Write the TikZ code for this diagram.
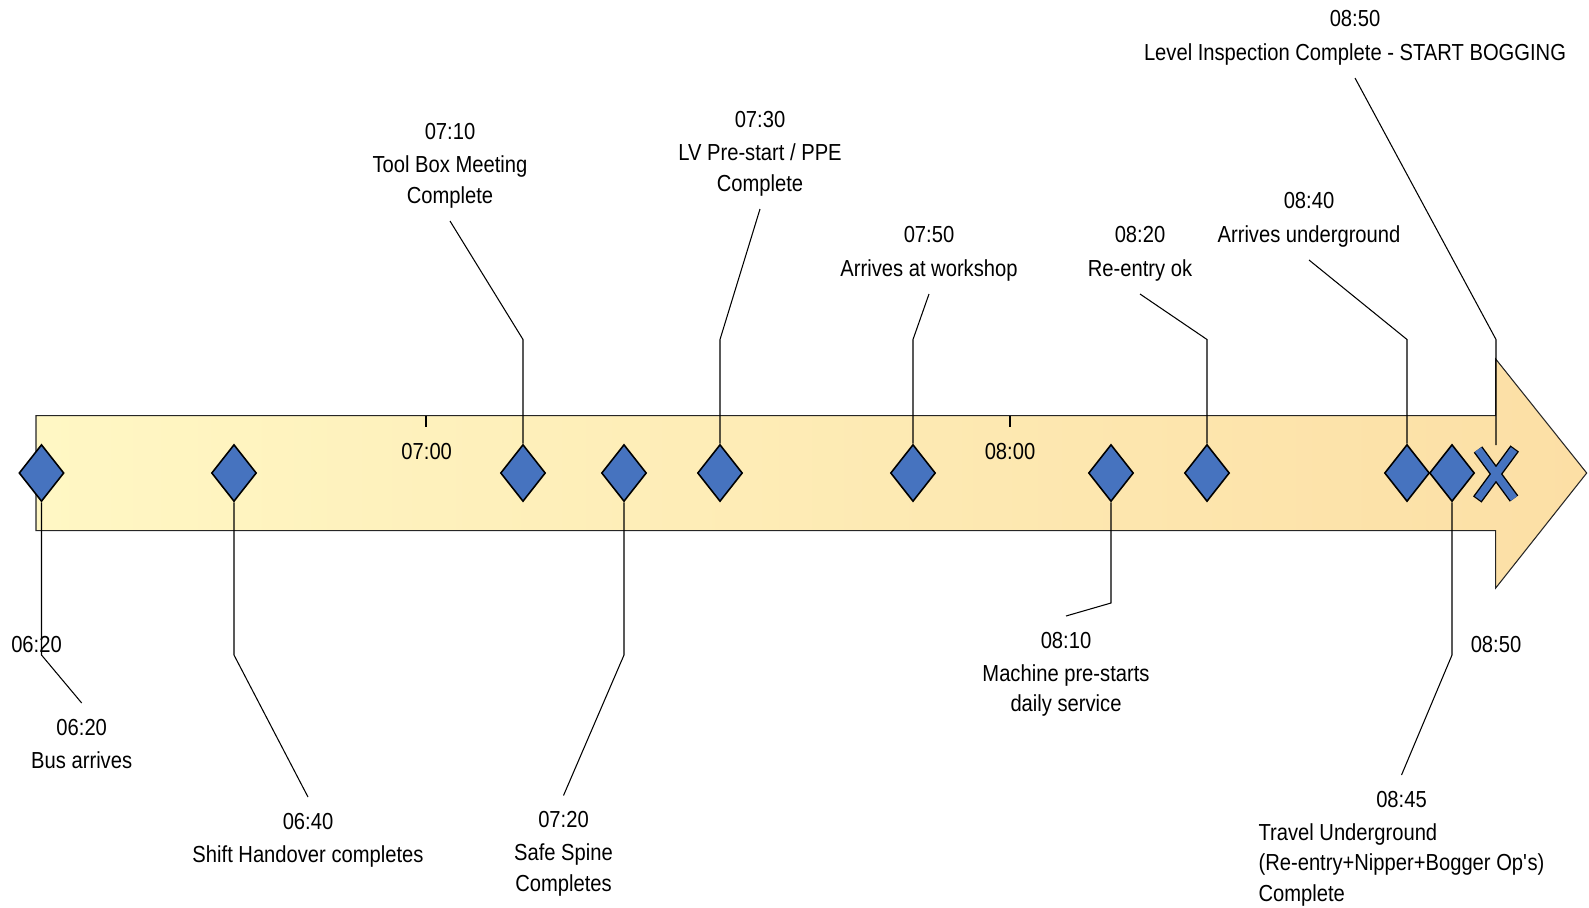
\documentclass[tikz,border=0pt]{standalone}
\usepackage{fontspec}
\setmainfont{Liberation Sans}[FakeStretch=0.87]
\usetikzlibrary{shapes.geometric}
\definecolor{Marker}{HTML}{4673BF}
\definecolor{BandLeft}{HTML}{FFF7C4}
\definecolor{BandRight}{HTML}{FCDFA5}

\begin{document}
\begin{tikzpicture}[x=0.02cm,y=-0.02cm,
    every node/.style={font=\fontsize{13.2}{17.3}\selectfont},
    band/.style={draw=black!85,line width=0.6pt,left color=BandLeft,right color=BandRight},
    milestone/.style={diamond,draw=black,line width=0.9pt,fill=Marker,inner sep=0pt,
      minimum width=0.9cm,minimum height=1.14cm},
    lead/.style={draw=black,line width=0.6pt},
    toplbl/.style={align=center,anchor=south,inner sep=7.1pt},
    lowlbl/.style={align=center,anchor=north,inner sep=8.8pt},
    xedge/.style={draw=black,line width=6pt,shorten <=-0.7pt,shorten >=-0.7pt},
    xfill/.style={draw=Marker,line width=4.4pt}]
  \useasboundingbox (0,0) rectangle (1589,907);

  % time band
  \shade[band] (36,415.7) -- (1495.7,415.7) -- (1495.7,359) -- (1586.7,473)
    -- (1495.7,588) -- (1495.7,530.7) -- (36,530.7) -- cycle;
  \draw[lead] (426,415.7) -- (426,427);
  \draw[lead] (1010,415.7) -- (1010,427);
  \node (t700) at (426.7,451.7) {07:00};
  \node (t800) at (1010,451.7) {08:00};
  \node (start) at (36.5,645) {06:20};
  \node (finish) at (1496,644.5) {08:50};

  % milestones
  \node[milestone] (d620) at (41.5,473) {};
  \node[milestone] (d640) at (234,473) {};
  \node[milestone] (d710) at (523,473) {};
  \node[milestone] (d720) at (624,473) {};
  \node[milestone] (d730) at (720,473) {};
  \node[milestone] (d750) at (913,473) {};
  \node[milestone] (d810) at (1111,473) {};
  \node[milestone] (d820) at (1207,473) {};
  \node[milestone] (d840) at (1407,473) {};
  \node[milestone] (d845) at (1452,473) {};
  \coordinate (x850) at (1496,474);

  % labels
  \node[lowlbl] (lbl620) at (81.7,703) {06:20\\[1.7pt]Bus arrives};
  \node[lowlbl] (lbl640) at (308,797) {06:40\\[1.7pt]Shift Handover completes};
  \node[toplbl] (lbl710) at (450,221) {07:10\\[1.7pt]Tool Box Meeting\\Complete};
  \node[lowlbl] (lbl720) at (563.5,795.5) {07:20\\[1.7pt]Safe Spine\\Completes};
  \node[toplbl] (lbl730) at (760,209) {07:30\\[1.7pt]LV Pre-start / PPE\\Complete};
  \node[toplbl] (lbl750) at (929,294) {07:50\\[1.7pt]Arrives at workshop};
  \node[lowlbl] (lbl810) at (1066,616) {08:10\\[1.7pt]Machine pre-starts\\daily service};
  \node[toplbl] (lbl820) at (1140,294) {08:20\\[1.7pt]Re-entry ok};
  \node[toplbl] (lbl840) at (1309,260) {08:40\\[1.7pt]Arrives underground};
  \node[lowlbl] (lbl845) at (1401.5,775) {08:45\\[1.7pt]\begin{tabular}[t]{@{}l@{}}Travel Underground\\(Re-entry+Nipper+Bogger Op\textquotesingle s)\\Complete\end{tabular}};
  \node[toplbl] (lbl850) at (1355,78) {08:50\\[1.7pt]Level Inspection Complete - START BOGGING};

  % leaders
  \draw[lead] (d620.south) -- (d620 |- 0,655) -- (lbl620.north);
  \draw[lead] (d640.south) -- (d640 |- 0,655) -- (lbl640.north);
  \draw[lead] (d710.north) -- (d710 |- 0,339.5) -- (lbl710.south);
  \draw[lead] (d720.south) -- (d720 |- 0,655) -- (lbl720.north);
  \draw[lead] (d730.north) -- (d730 |- 0,339.5) -- (lbl730.south);
  \draw[lead] (d750.north) -- (d750 |- 0,339.5) -- (lbl750.south);
  \draw[lead] (d810.south) -- (d810 |- 0,603) -- (lbl810.north);
  \draw[lead] (d820.north) -- (d820 |- 0,339.5) -- (lbl820.south);
  \draw[lead] (d840.north) -- (d840 |- 0,339.5) -- (lbl840.south);
  \draw[lead] (d845.south) -- (d845 |- 0,655) -- (lbl845.north);
  \draw[lead] ([yshift=0.58cm]x850) -- (x850 |- 0,339.5) -- (lbl850.south);

  % end mark
  \draw[xedge] ([shift={(-18,-24.5)}]x850) -- ([shift={(18,24.5)}]x850)
    ([shift={(-18,24.5)}]x850) -- ([shift={(18,-24.5)}]x850);
  \draw[xfill] ([shift={(-18,-24.5)}]x850) -- ([shift={(18,24.5)}]x850)
    ([shift={(-18,24.5)}]x850) -- ([shift={(18,-24.5)}]x850);
\end{tikzpicture}
\end{document}
